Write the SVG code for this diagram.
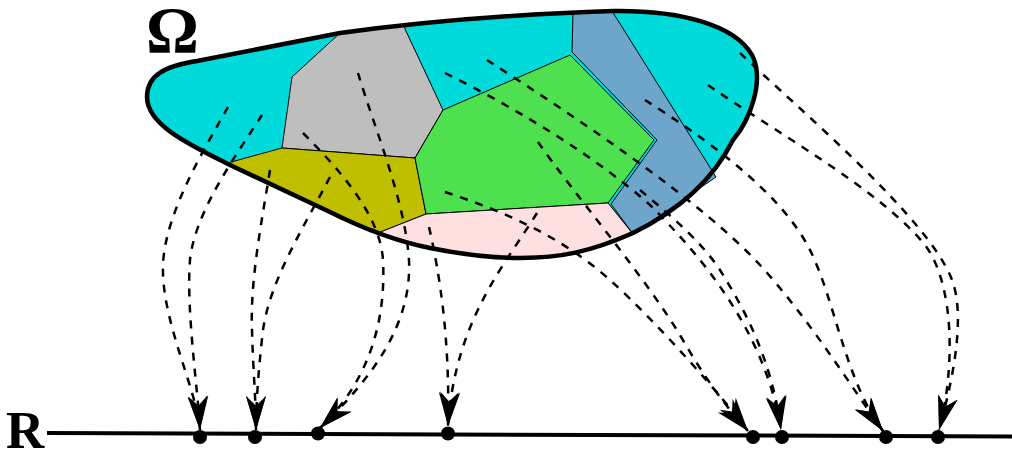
<svg xmlns="http://www.w3.org/2000/svg" width="1012" height="453" viewBox="0 0 1012 453">
<style>
.reg{stroke:#000;stroke-width:1;stroke-linejoin:miter}
.map{fill:none;stroke:#000;stroke-width:2.5;stroke-dasharray:8 8;marker-end:url(#ah)}
.dot{fill:#000}
.lbl{font-family:"Liberation Serif","Times New Roman",serif;font-weight:bold;fill:#000}
</style>
<defs>
<path id="blobPath" d="M147,97 C147,75 165,66 197,61 L340,33 C420,22 520,14 613,11 C680,10 735,25 752,55 C765,80 750,120 733,140 C718,170 690,205 633,233 C590,252 560,258 520,258 C490,258 460,254 430,248 C400,242 370,232 330,212 L230,165 C190,145 147,125 147,97 Z"/>
<clipPath id="blobClip"><use href="#blobPath"/></clipPath>
<marker id="ah" markerUnits="userSpaceOnUse" markerWidth="40" markerHeight="24" viewBox="-36 -12 40 24" refX="0" refY="0" orient="auto" overflow="visible">
<path d="M0,0 L-34,-10 L-24,0 L-34,10 Z" fill="#000"/>
</marker>
</defs>
<rect width="1012" height="453" fill="#fff"/>

<g id="omega-domain">
<use href="#blobPath" fill="#00DADA"/>
<g clip-path="url(#blobClip)">
<polygon id="cell-gray" class="reg" fill="#BEBEBE" points="292,77 340,33 341,20 404,20 405,29 443,110 415,158 282,148"/>
<polygon id="cell-olive" class="reg" fill="#BFBF00" points="200,175 231,162 282,148 415,158 426,214 378,233 300,260"/>
<polygon id="cell-green" class="reg" fill="#4EE04E" points="443,110 570,55 654,140 608,203 426,214 415,158"/>
<polygon id="cell-pink" class="reg" fill="#FFE0E0" points="378,233 426,214 608,203 633,234 640,300 370,300"/>
</g>
<polygon id="cell-blue" class="reg" fill="#6DA5CB" points="573,12 612,11 716,177 633,234 611,204 657,140 572,52"/>
<use href="#blobPath" fill="none" stroke="#000" stroke-width="4.5"/>
</g>

<g id="labels">
<text class="lbl" x="146" y="52" font-size="66">Ω</text>
<text class="lbl" x="6" y="448" font-size="53">R</text>
</g>

<g id="real-line">
<line x1="47" y1="433" x2="1012" y2="436.5" stroke="#000" stroke-width="4"/>
<circle class="dot" cx="200" cy="437" r="7"/>
<circle class="dot" cx="255" cy="437" r="7"/>
<circle class="dot" cx="318" cy="433.5" r="7"/>
<circle class="dot" cx="448" cy="433.5" r="7"/>
<circle class="dot" cx="753" cy="437" r="7"/>
<circle class="dot" cx="782" cy="437" r="7"/>
<circle class="dot" cx="886" cy="437" r="7"/>
<circle class="dot" cx="938" cy="437" r="7"/>
</g>

<g id="connectors">
<path class="map" d="M228,107 C210,140 165,210 163,265 C161,320 197,390 200,430"/>
<path class="map" d="M262,115 C240,150 195,210 190,260 C186,310 198,390 200,430"/>
<path class="map" d="M270,170 C262,220 250,280 252,330 C253,370 256,400 256,430"/>
<path class="map" d="M330,177 C305,225 270,280 263,330 C259,365 256,400 256,430"/>
<path class="map" d="M303,133 C340,170 380,215 383,260 C386,320 370,380 320,428"/>
<path class="map" d="M358,73 C375,130 405,200 409,260 C412,325 372,378 320,428"/>
<path class="map" d="M429,227 C440,275 450,340 448,426"/>
<path class="map" d="M537,213 C505,265 455,320 448,426"/>
<path class="map" d="M445,192 C500,210 560,235 610,280 C660,325 725,400 748,431"/>
<path class="map" d="M538,142 C575,195 640,270 680,335 C700,370 720,400 748,431"/>
<path class="map" d="M445,73 C520,110 600,160 650,205 C700,255 765,330 781,430"/>
<path class="map" d="M640,190 C670,215 700,240 720,270 C745,310 772,360 781,430"/>
<path class="map" d="M487,60 C580,120 700,200 760,265 C810,320 850,385 883,431"/>
<path class="map" d="M645,100 C700,135 780,190 810,250 C835,300 845,380 883,431"/>
<path class="map" d="M708,85 C780,135 880,190 925,245 C955,285 955,370 939,430"/>
<path class="map" d="M740,53 C800,110 930,220 952,280 C967,320 950,390 939,430"/>
</g>
</svg>
